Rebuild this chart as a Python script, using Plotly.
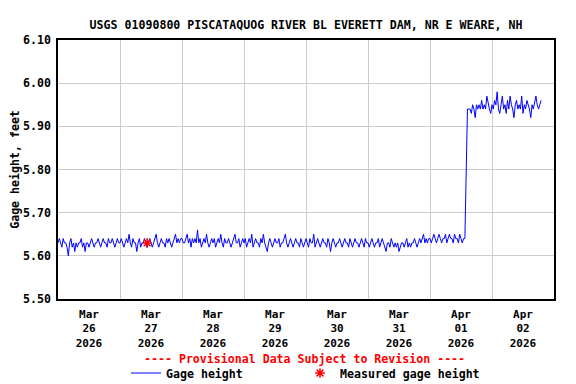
import pandas as pd
import plotly.graph_objects as go

# Gage height in hundredths of a foot, 30-minute readings
mar26 = [563,564,563,562,564,563,563,562,560,563,564,562,563,561,563,562,563,563,564,562,563,561,563,563,
         562,563,564,563,562,563,563,564,563,562,563,564,563,563,562,564,563,563,564,563,562,563,564,563]
mar27 = [563,564,563,562,563,564,563,565,563,562,564,563,563,561,563,564,562,563,563,564,563,562,563,564,
         563,562,563,564,565,563,562,563,564,563,563,562,564,563,564,563,562,563,564,565,563,564,563,564]
mar28 = [564,563,563,564,565,563,564,562,564,563,564,563,566,563,564,562,563,564,563,565,563,562,563,564,
         563,564,562,563,564,563,565,563,562,564,563,563,564,563,562,563,564,565,563,563,564,562,563,564]
mar29 = [563,564,562,563,564,563,565,562,563,564,563,563,562,564,563,565,563,562,561,563,564,563,562,563,
         564,563,563,564,562,563,563,564,565,563,562,563,564,563,562,563,564,563,563,562,564,563,562,563]
mar30 = [564,563,562,564,563,563,565,562,563,564,563,562,563,564,563,563,562,564,563,561,563,564,563,562,
         563,563,564,563,562,563,564,563,563,562,564,563,562,563,564,563,563,562,563,564,563,562,564,563]
mar31 = [563,562,563,564,563,562,563,563,564,562,563,564,563,562,561,563,563,562,564,563,562,563,562,563,
         561,562,563,563,562,563,564,562,563,562,563,563,564,563,562,563,564,563,564,565,563,564,563,564]
apr01 = [564,563,564,565,564,563,564,565,564,563,564,564,565,563,564,565,564,564,563,565,564,564,563,565,
         564,563,564,564,579,
         594,594,594,593,595,594,592,595,594,595,594,596,594,595,594,597,595,594,593,595]
apr02 = [594,596,595,598,594,593,595,597,594,595,593,596,594,597,595,594,592,595,596,594,595,594,597,593,
         595,594,596,595,594,592,595,594,596,597,595,594,595,596]

measured_time = ["2026-03-27 10:30"]
measured_value = [5.63]

title_text = "USGS 01090800 PISCATAQUOG RIVER BL EVERETT DAM, NR E WEARE, NH"
y_title = "Gage height, feet"
provisional = "---- Provisional Data Subject to Revision ----"

values = [v / 100 for v in mar26 + mar27 + mar28 + mar29 + mar30 + mar31 + apr01 + apr02]
times = pd.date_range("2026-03-26 00:00", periods=len(values), freq="30min")

FONT = dict(family="DejaVu Sans Mono", size=11.6, color="black", weight="bold")

# page body has an 8px margin, so the figure is 568x376 placed at (8, 8)
W, H, OFF = 568, 376, 8

fig = go.Figure()
fig.add_trace(go.Scatter(x=times, y=values, mode="lines", name="Gage height",
                         line=dict(color="#0000ff", width=1), legend="legend"))
fig.add_trace(go.Scatter(x=pd.to_datetime(measured_time), y=measured_value, mode="markers",
                         name="Measured gage height", legend="legend2",
                         marker=dict(symbol="asterisk", size=8, color="red",
                                     line=dict(color="red", width=1.5))))

leg_common = dict(orientation="h", xref="container", yref="container", xanchor="left",
                  y=1 - (373 - OFF) / H, yanchor="middle", font=FONT, itemwidth=30,
                  bgcolor="rgba(0,0,0,0)")

fig.update_layout(
    width=W, height=H,
    margin=dict(l=58 - OFF, r=22, t=40 - OFF, b=85, autoexpand=False),
    paper_bgcolor="white", plot_bgcolor="white",
    font=FONT,
    title=dict(text=title_text, x=0.5, xref="paper", xanchor="center",
               y=1 - (24.5 - OFF) / H, yanchor="middle",
               yref="container", font=dict(FONT, size=11.6)),
    showlegend=True,
    legend=dict(leg_common, x=(126 - OFF) / W),
    legend2=dict(leg_common, x=(300 - OFF) / W),
    annotations=[dict(text=provisional, x=0.496, y=(299 - 358.5) / 259, xref="paper", yref="paper",
                      showarrow=False, xanchor="center", yanchor="middle",
                      font=dict(family="DejaVu Sans Mono", size=11.6, color="red", weight="bold"))],
)
fig.update_xaxes(
    range=["2026-03-26 00:00", "2026-04-03 00:00"], automargin=False,
    tick0="2026-03-26", dtick=86400000, ticklabelmode="period", ticklabelstandoff=4,
    tickformat="%b<br>%d<br>%Y", ticks="", showgrid=True, gridcolor="#cccccc", gridwidth=1,
    showline=True, linecolor="black", linewidth=1.5, mirror=True, zeroline=False,
    tickfont=dict(FONT, size=11),
)
fig.update_yaxes(
    range=[5.50, 6.10], tick0=5.5, dtick=0.1, tickformat=".2f", ticks="", automargin=False,
    ticklabelstandoff=3,
    showgrid=True, gridcolor="#cccccc", gridwidth=1,
    showline=True, linecolor="black", linewidth=1.5, mirror=True, zeroline=False,
    title=dict(text=y_title, font=FONT, standoff=1), tickfont=FONT,
)

fig.write_html("out.html")
